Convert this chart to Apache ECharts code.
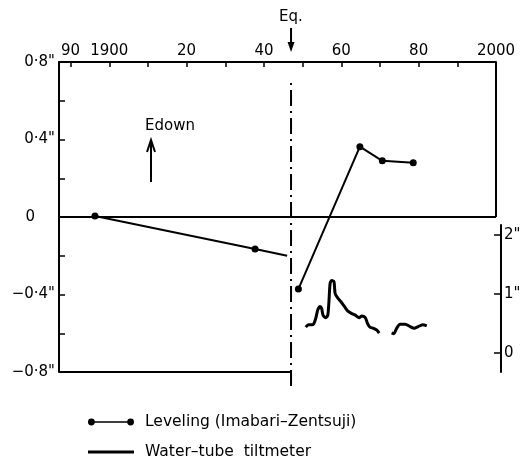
<!DOCTYPE html>
<html>
<head>
<meta charset="utf-8">
<script src="https://cdn.jsdelivr.net/npm/echarts@6/dist/echarts.min.js"></script>
<style>
html, body { margin: 0; padding: 0; background: #fff; }
#main { width: 526px; height: 458px; }
</style>
</head>
<body>
<div id="main"></div>
<script>
var eqYear = 1947;
var xTicks = [1890, 1900, 1910, 1920, 1930, 1940, 1950, 1960, 1970, 1980, 1990, 2000];
var xLabels = [1890, 1900, 1920, 1940, 1960, 1980, 2000];
var xLabelText = {1890: '90', 1900: '1900', 1920: '20', 1940: '40', 1960: '60', 1980: '80', 2000: '2000'};
var yTicks = [-0.8, -0.6, -0.4, -0.2, 0, 0.2, 0.4, 0.6, 0.8];
var yLabels = [-0.8, -0.4, 0, 0.4, 0.8];
var tiltTicks = [0, 1, 2];

// leveling, tilt in seconds of arc (left axis)
var levelingBefore = [[1896.3, 0.005], [1937.7, -0.165], [1946.0, -0.2]];
var levelingAfter = [[1948.9, -0.372], [1964.8, 0.363], [1970.6, 0.29], [1978.6, 0.28]];

// water-tube tiltmeter (right axis)
var tiltA = [
    [1950.8, 0.44], [1951.5, 0.48], [1952.3, 0.48], [1952.9, 0.50], [1953.4, 0.59],
    [1953.9, 0.73], [1954.5, 0.79], [1954.9, 0.76], [1955.3, 0.64], [1956.0, 0.60],
    [1956.5, 0.64], [1956.8, 0.87], [1957.1, 1.18], [1957.5, 1.23], [1958.1, 1.21],
    [1958.4, 1.01], [1959.1, 0.93], [1959.9, 0.87], [1960.8, 0.79], [1961.7, 0.71],
    [1962.7, 0.67], [1963.7, 0.64], [1964.6, 0.60], [1965.3, 0.63], [1966.2, 0.60],
    [1966.8, 0.50], [1967.4, 0.44], [1968.3, 0.42], [1969.2, 0.39], [1969.8, 0.34]
];
var tiltB = [
    [1973.0, 0.34], [1973.6, 0.33], [1974.3, 0.42], [1975.2, 0.49], [1976.5, 0.49],
    [1977.8, 0.45], [1978.8, 0.42], [1979.9, 0.45], [1981.1, 0.48], [1982.1, 0.46]
];

var levName = 'Leveling (Imabari–Zentsuji)';
var tiltName = 'Water–tube  tiltmeter';

var xMin = 1887, xMax = 2000;
var gapEnd = 1950.6;
var font = 'DejaVu Sans';

var chart = echarts.init(document.getElementById('main'));

function hiddenX(i) {
    return {gridIndex: i, type: 'value', min: xMin, max: xMax, show: false};
}

function legendAt(top, name, icon) {
    return {
        left: 88, top: top, padding: 0,
        itemWidth: 46, itemHeight: 8,
        selectedMode: false,
        itemStyle: {color: '#000', borderWidth: 0},
        textStyle: {fontFamily: font, fontSize: 15.5, color: '#000', padding: [0, 0, 0, 6]},
        data: [{name: name, icon: icon, itemStyle: {color: '#000', borderColor: '#000', borderWidth: 0}}]
    };
}

var option = {
    animation: false,
    backgroundColor: '#fff',
    textStyle: {fontFamily: font, color: '#000'},
    grid: [
        {left: 59, right: 30, top: 62, bottom: 86},
        {left: 59, right: 30, top: 225, bottom: 86},
        {left: 59, right: 30, top: 83, bottom: 72}
    ],
    legend: [
        legendAt(414, levName,
            'path://M0,4A3.4,3.4 0 1,1 6.8,4A3.4,3.4 0 1,1 0,4Z M6.6,3.2H39.4V4.8H6.6Z M39.2,4A3.4,3.4 0 1,1 46,4A3.4,3.4 0 1,1 39.2,4Z'),
        legendAt(444, tiltName, 'path://M0,2.6H46V5.4H0Z')
    ],
    xAxis: [
        {
            gridIndex: 0, type: 'value', position: 'top', min: xMin, max: xMax,
            axisLine: {show: true, onZero: false, lineStyle: {color: '#000', width: 2}},
            axisTick: {show: true, inside: true, length: 5, customValues: xTicks, lineStyle: {color: '#000', width: 1.5}},
            axisLabel: {
                customValues: xLabels, margin: 3, fontSize: 15, color: '#000', fontFamily: font,
                formatter: function (v) { return xLabelText[v] || ''; }
            },
            splitLine: {show: false}
        },
        hiddenX(1),
        hiddenX(2)
    ],
    yAxis: [
        {
            gridIndex: 0, type: 'value', min: -0.8, max: 0.8,
            axisLine: {show: true, onZero: false, lineStyle: {color: '#000', width: 2}},
            axisTick: {show: true, inside: true, length: 6, customValues: yTicks, lineStyle: {color: '#000', width: 1.5}},
            axisLabel: {
                customValues: yLabels, margin: 4, fontSize: 15, color: '#000', fontFamily: font,
                formatter: function (v) {
                    if (Math.abs(v) < 1e-9) return '{z|0}';
                    return (v < 0 ? '−' : '') + '0·' + Math.round(Math.abs(v) * 10) + '"';
                },
                rich: {z: {fontSize: 15, fontFamily: font, color: '#000', padding: [0, 20, 0, 0]}}
            },
            splitLine: {show: false}
        },
        {
            gridIndex: 1, type: 'value', position: 'right', offset: 5, min: -0.32, max: 2.17,
            axisLine: {show: true, onZero: false, lineStyle: {color: '#000', width: 2}},
            axisTick: {show: true, inside: true, length: 7, customValues: tiltTicks, lineStyle: {color: '#000', width: 1.5}},
            axisLabel: {
                customValues: tiltTicks, margin: 3, fontSize: 15, color: '#000', fontFamily: font,
                formatter: function (v) { return v === 0 ? '0' : v + '"'; }
            },
            splitLine: {show: false}
        },
        {gridIndex: 2, type: 'value', min: 0, max: 1, show: false}
    ],
    series: [
        {
            name: levName, type: 'line', xAxisIndex: 0, yAxisIndex: 0,
            data: levelingBefore.map(function (p, i) {
                return i === levelingBefore.length - 1 ? {value: p, symbol: 'none'} : p;
            }),
            symbol: 'circle', symbolSize: 7, color: '#000',
            lineStyle: {color: '#000', width: 2},
            markLine: {
                silent: true, symbol: 'none', label: {show: false},
                lineStyle: {color: '#000', width: 2, type: 'solid'},
                data: [
                    {yAxis: 0},
                    [{coord: [xMax, 0]}, {coord: [xMax, 0.8]}],
                    [{coord: [xMin, -0.8]}, {coord: [eqYear, -0.8]}],
                    [{coord: [gapEnd, -0.8]}, {coord: [xMax + 1.4, -0.8]}]
                ]
            }
        },
        {
            name: levName, type: 'line', xAxisIndex: 0, yAxisIndex: 0,
            data: levelingAfter, symbol: 'circle', symbolSize: 7, color: '#000',
            lineStyle: {color: '#000', width: 2}
        },
        {
            name: tiltName, type: 'line', xAxisIndex: 1, yAxisIndex: 1,
            data: tiltA, symbol: 'none', smooth: 0.25, color: '#000',
            lineStyle: {color: '#000', width: 3}
        },
        {
            name: tiltName, type: 'line', xAxisIndex: 1, yAxisIndex: 1,
            data: tiltB, symbol: 'none', smooth: 0.25, color: '#000',
            lineStyle: {color: '#000', width: 3}
        },
        {
            name: 'Eq.', type: 'line', xAxisIndex: 2, yAxisIndex: 2,
            data: [[eqYear, 0], [eqYear, 1]], symbol: 'none', silent: true,
            lineStyle: {color: '#000', width: 2, type: [16, 5, 2, 5]}
        }
    ]
};

chart.setOption(option);

var ex = chart.convertToPixel({xAxisIndex: 0}, eqYear);
chart.setOption({
    graphic: [
        {type: 'text', left: ex - 12, top: 10,
         style: {text: 'Eq.', fontSize: 15, fontFamily: font, fill: '#000'}},
        {type: 'line', shape: {x1: ex, y1: 28, x2: ex, y2: 45}, style: {stroke: '#000', lineWidth: 2}},
        {type: 'polygon', shape: {points: [[ex - 3.5, 42], [ex + 3.5, 42], [ex, 52]]}, style: {fill: '#000'}},
        {type: 'text', left: 145, top: 119,
         style: {text: 'Edown', fontSize: 15, fontFamily: font, fill: '#000'}},
        {type: 'line', shape: {x1: 151, y1: 182, x2: 151, y2: 142}, style: {stroke: '#000', lineWidth: 2}},
        {type: 'polyline', shape: {points: [[147, 152], [151, 140], [155, 152]]}, style: {stroke: '#000', lineWidth: 2, fill: null}}
    ]
});
</script>
</body>
</html>
